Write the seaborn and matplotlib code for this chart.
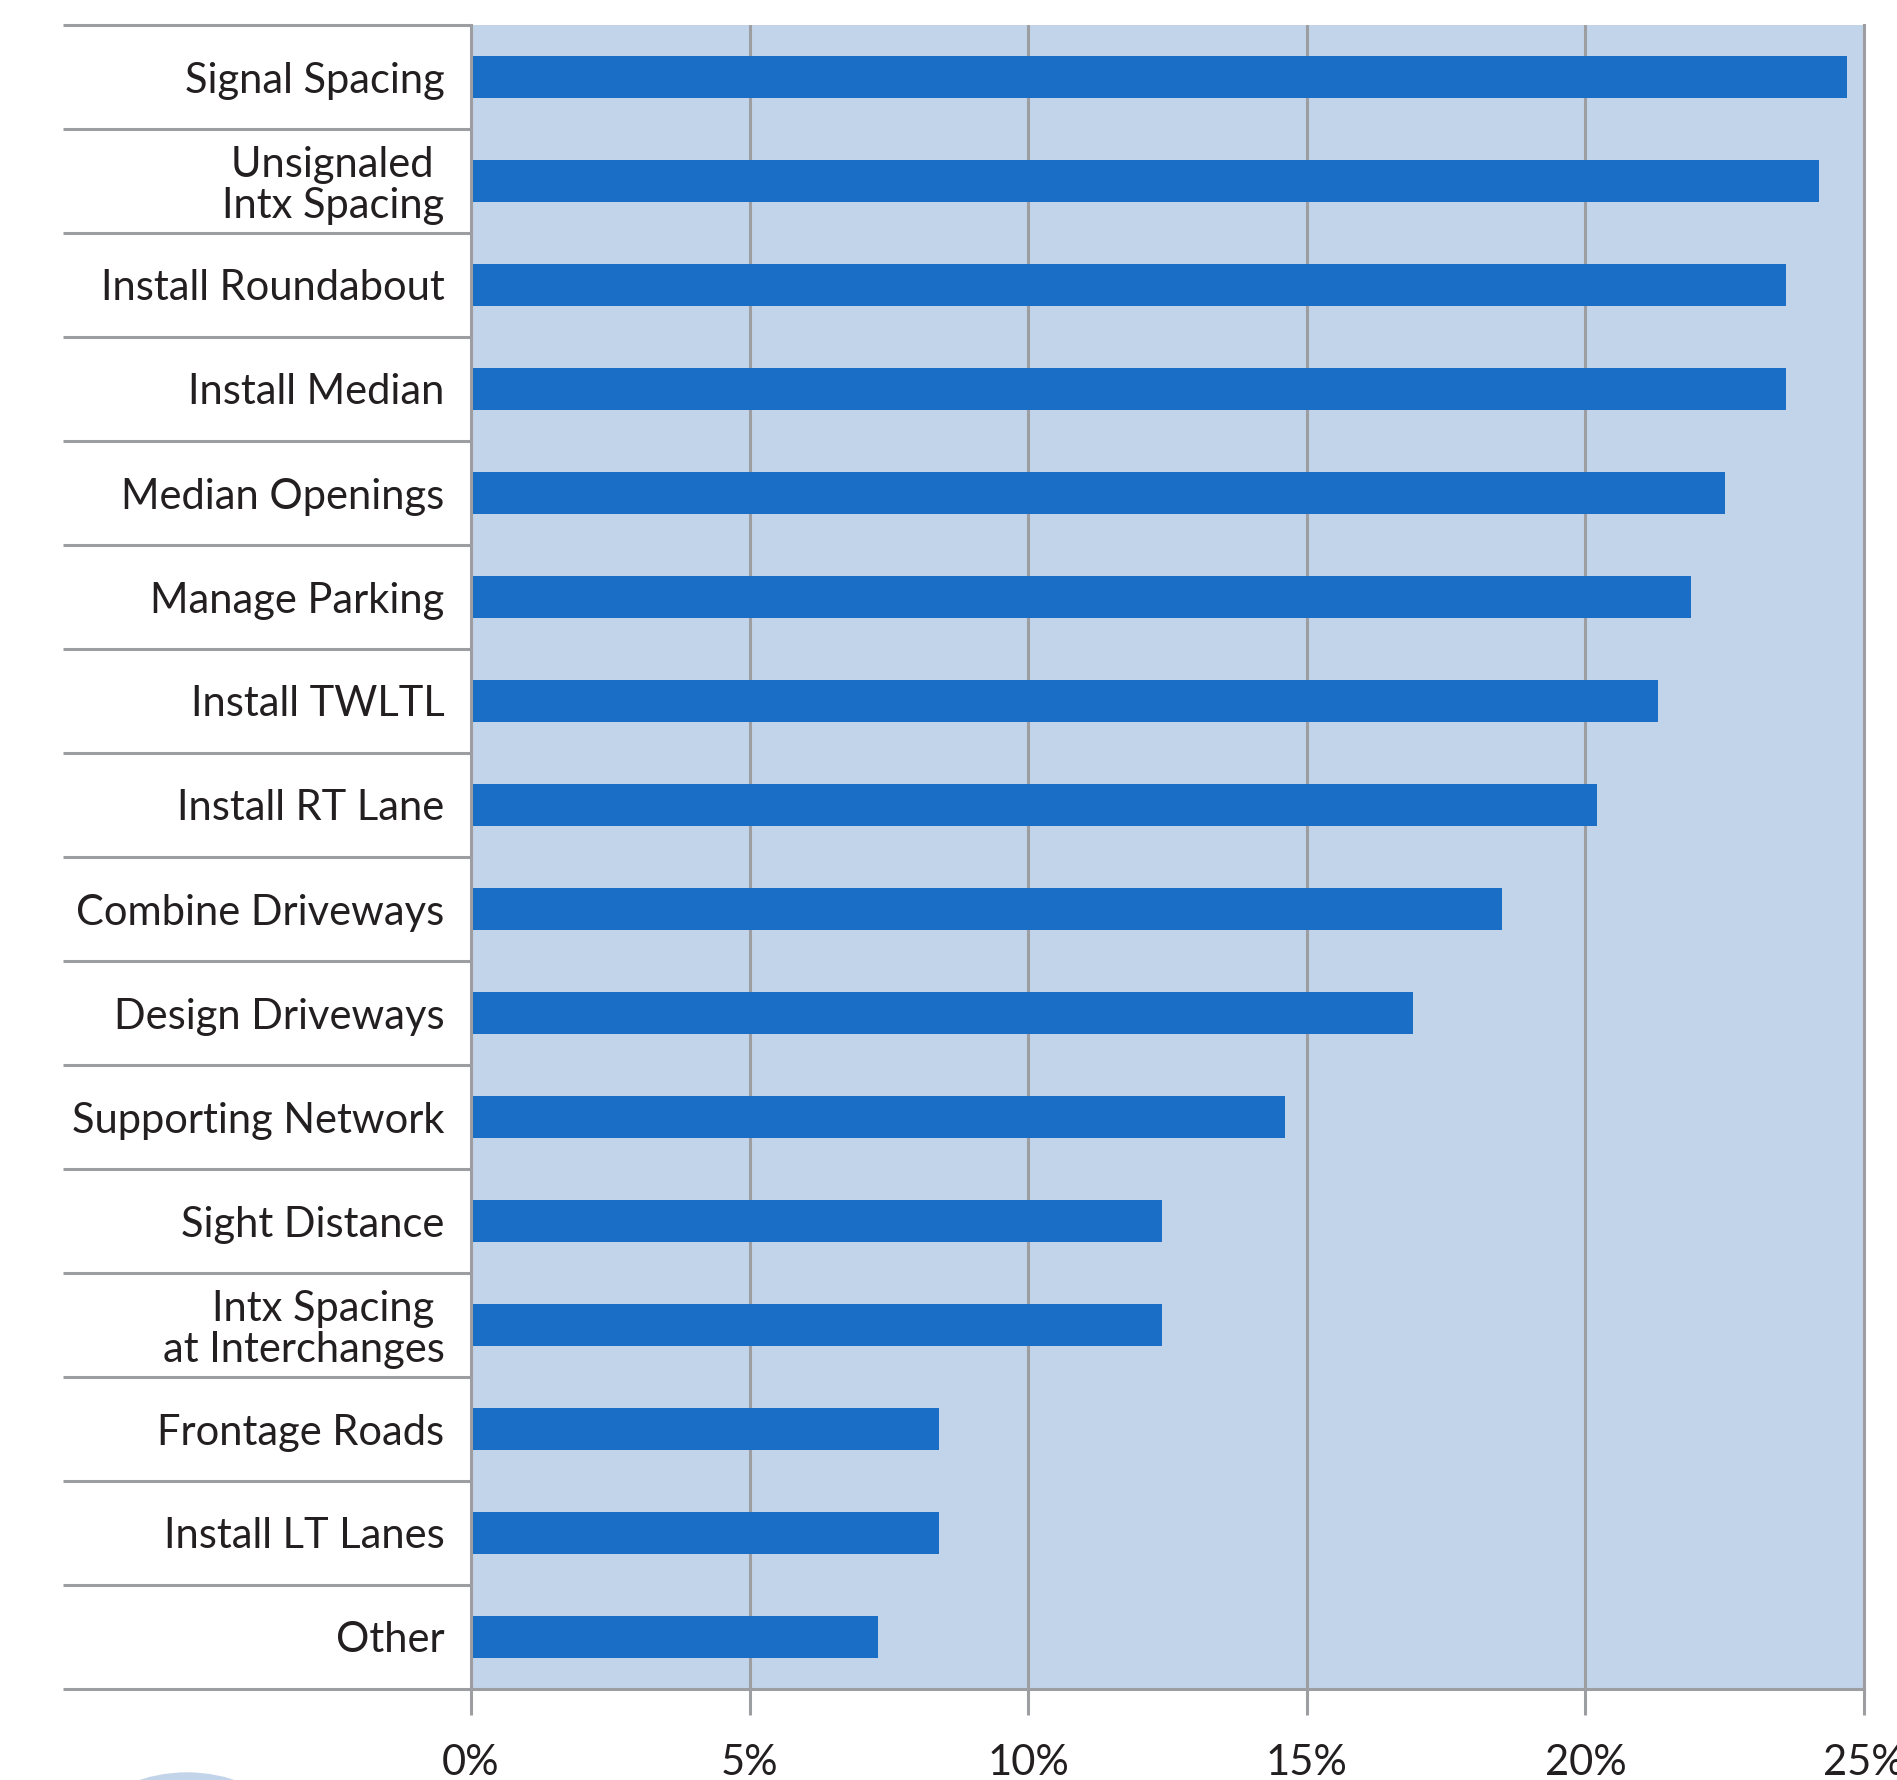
import matplotlib
matplotlib.use("Agg")
import matplotlib.pyplot as plt
import matplotlib.patches as mpatches
import seaborn as sns
import pandas as pd

categories = [
    "Signal Spacing",
    "Unsignaled \nIntx Spacing",
    "Install Roundabout",
    "Install Median",
    "Median Openings",
    "Manage Parking",
    "Install TWLTL",
    "Install RT Lane",
    "Combine Driveways",
    "Design Driveways",
    "Supporting Network",
    "Sight Distance",
    "Intx Spacing \nat Interchanges",
    "Frontage Roads",
    "Install LT Lanes",
    "Other",
]
values = [24.7, 24.2, 23.6, 23.6, 22.5, 21.9, 21.3, 20.2,
          18.5, 16.9, 14.6, 12.4, 12.4, 8.4, 8.4, 7.3]
xticks = [0, 5, 10, 15, 20, 25]
xtick_labels = ["0%", "5%", "10%", "15%", "20%", "25%"]

BAR = "#1A6EC6"
BG = "#C2D4E9"
GRAY = "#9C9EA1"
TXT = "#231F20"

sns.set_theme(style="white")
plt.rcParams["font.family"] = ["Lato", "DejaVu Sans"]

df = pd.DataFrame({"cat": categories, "val": values})

fig = plt.figure(figsize=(18.97, 17.80), dpi=100)
ax = fig.add_axes([471 / 1897, 1 - 1689 / 1780, (1864 - 471) / 1897, (1689 - 25) / 1780])
ax.set_facecolor(BG)

sns.barplot(data=df, x="val", y="cat", orient="h", color=BAR, saturation=1,
            width=0.4, ax=ax, zorder=3, linewidth=0)

n = len(categories)
ax.set_xlim(0, 25)
ax.set_ylim(n - 0.5, -0.5)
ax.set_xticks(xticks)
ax.set_xticklabels(xtick_labels)
ax.set_xlabel("")
ax.set_ylabel("")

ax.grid(axis="x", color=GRAY, linewidth=2.2, zorder=1)
ax.grid(axis="y", visible=False)
ax.set_axisbelow(True)

ax.spines["top"].set_visible(False)
for side in ["left", "bottom", "right"]:
    ax.spines[side].set_visible(True)
    ax.spines[side].set_color(GRAY)
    ax.spines[side].set_linewidth(2.2)
    ax.spines[side].set_zorder(4)

ax.tick_params(axis="x", direction="out", length=18.5, width=2.2, color=GRAY,
               pad=21, labelsize=30, labelcolor=TXT, bottom=True)
ax.tick_params(axis="y", length=0, pad=19, labelsize=30, labelcolor=TXT)
for lab in ax.get_yticklabels():
    lab.set_linespacing(1.08)
    lab.set_multialignment("right")

# separators to the left of the plot
ytr = ax.get_yaxis_transform()
for i in range(n + 1):
    yb = i - 0.5
    ax.plot([-0.2929, 0], [yb, yb], transform=ytr, color=GRAY, linewidth=2.2,
            clip_on=False, zorder=5, solid_capstyle="butt", scalex=False, scaley=False)
ax.set_ylim(n - 0.5, -0.5)

# partial logo circle at bottom-left
circ = mpatches.Ellipse((187 / 1897, 1 - 1924 / 1780), 302 / 1897, 302 / 1780,
                        transform=fig.transFigure, color=BG, zorder=0)
fig.patches.append(circ)

fig.savefig("out.png", dpi=100)
